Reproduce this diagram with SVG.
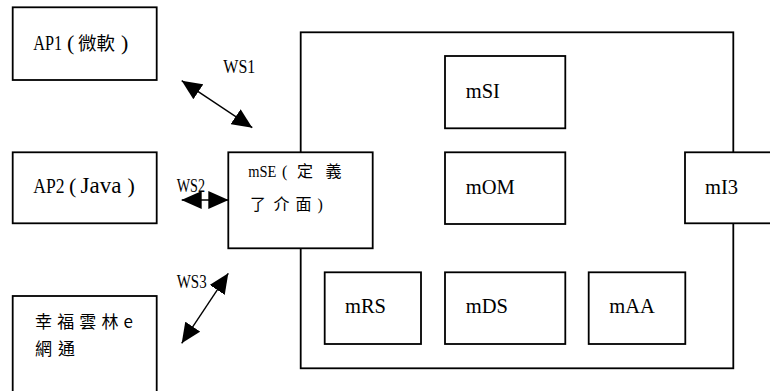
<svg xmlns="http://www.w3.org/2000/svg" width="770" height="391" viewBox="0 0 770 391">
<style>
.box{fill:#fff;stroke:#000;stroke-width:1.8}
.la{font-family:"Liberation Serif",serif;fill:#000}
.cj{font-family:"Noto Sans CJK TC",sans-serif;fill:#000}
.ws{font-family:"Liberation Serif",serif;font-size:19px;fill:#000}
.tm{font-family:"Liberation Serif",serif;font-size:20.5px;fill:#000}
.arr{stroke:#000;stroke-width:1.4;fill:none;marker-start:url(#ah);marker-end:url(#ah)}
</style>
<defs>
<marker id="ah" markerUnits="userSpaceOnUse" markerWidth="20" markerHeight="18" refX="20" refY="9" orient="auto-start-reverse" viewBox="0 0 20 18">
<path d="M0,0 L20,9 L0,18 Z" fill="#000"/>
</marker>
</defs>
<rect width="770" height="391" fill="#fff"/>
<g id="system">
<rect class="box" x="300.7" y="32.3" width="432.6" height="336"/>
</g>
<g id="mSI"><rect class="box" x="445" y="56" width="120.3" height="72.3"/><text class="tm" x="465.7" y="98.3">mSI</text></g>
<g id="mOM"><rect class="box" x="445" y="152.3" width="120.3" height="71.7"/><text class="tm" x="465.7" y="194">mOM</text></g>
<g id="mI3"><rect class="box" x="685" y="152.3" width="90" height="71"/><text class="tm" x="705" y="193.5">mI3</text></g>
<g id="mRS"><rect class="box" x="324.7" y="272.3" width="96.3" height="71.7"/><text class="tm" x="345" y="313.3">mRS</text></g>
<g id="mDS"><rect class="box" x="445" y="272.3" width="120.3" height="71.7"/><text class="tm" x="465.7" y="313.3">mDS</text></g>
<g id="mAA"><rect class="box" x="588.7" y="272.3" width="96.6" height="71.7"/><text class="tm" x="609.3" y="313.3">mAA</text></g>
<g id="mSE"><rect class="box" x="228.3" y="152.3" width="144.4" height="96"/>
<text class="la" transform="matrix(0.85 0 0 1 248.3 176.7)" style="font-size:17px">mSE</text>
<text class="la" x="282" y="176.7" style="font-size:16px">(</text>
<text class="cj" x="297" y="176.7" style="font-size:16px">定</text>
<text class="cj" x="325.5" y="176.7" style="font-size:16px">義</text>
<text class="cj" x="250" y="210" style="font-size:16px">了</text>
<text class="cj" x="273.5" y="210" style="font-size:16px">介</text>
<text class="cj" x="295.5" y="210" style="font-size:16px">面</text>
<text class="la" x="317.5" y="210" style="font-size:16px">)</text></g>
<g id="AP1"><rect class="box" x="12.7" y="7.3" width="144" height="72.7"/>
<text class="la" transform="matrix(0.74 0 0 1 33.3 50)" style="font-size:22px">AP1</text>
<text class="la" x="67" y="50" style="font-size:22px">(</text>
<text class="cj" x="78" y="50" style="font-size:18.5px">微軟</text>
<text class="la" x="121" y="50" style="font-size:22px">)</text></g>
<g id="AP2"><rect class="box" x="12.7" y="152.3" width="144" height="71"/>
<text class="la" transform="matrix(0.8 0 0 1 33.3 193.3)" style="font-size:22px">AP2</text>
<text class="la" x="69" y="193.3" style="font-size:22px">(</text>
<text class="la" x="80.5" y="193.3" style="font-size:23px">Java</text>
<text class="la" x="127.5" y="193.3" style="font-size:22px">)</text></g>
<g id="AP3"><rect class="box" x="12.7" y="296" width="144" height="110"/>
<text class="cj" x="35" y="328.3" style="font-size:17px" textLength="98" lengthAdjust="spacing">幸福雲林e</text>
<text class="cj" x="35" y="355" style="font-size:17px" textLength="40" lengthAdjust="spacing">網通</text></g>
<g id="connectors">
<line class="arr" x1="181.7" y1="80.7" x2="252.3" y2="127.7"/>
<line class="arr" x1="181.7" y1="200" x2="228.3" y2="200"/>
<line class="arr" x1="228.3" y1="273.3" x2="181.7" y2="343.3"/>
<text class="ws" x="223.3" y="72.7" textLength="32" lengthAdjust="spacingAndGlyphs">WS1</text>
<text class="ws" x="176.7" y="191.7" textLength="28.3" lengthAdjust="spacingAndGlyphs">WS2</text>
<text class="ws" x="176.7" y="288.3" textLength="30" lengthAdjust="spacingAndGlyphs">WS3</text>
</g>
</svg>
